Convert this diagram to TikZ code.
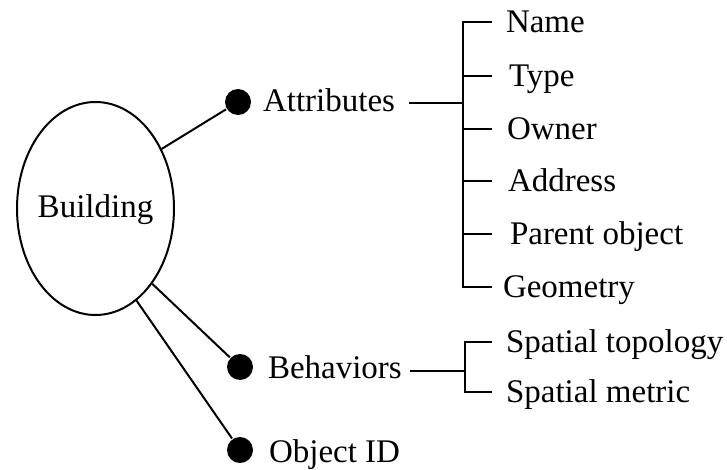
\documentclass[tikz,border=0pt]{standalone}
\usepackage{fontspec}
\setmainfont{Liberation Serif}
\usetikzlibrary{shapes.geometric}
\begin{document}
\begin{tikzpicture}[x=1pt,y=-1pt,line width=2pt,
  txt/.style={inner sep=0pt,font=\fontsize{33}{40}\selectfont},
  item/.style={txt,anchor=base west},
  dot/.style={circle,fill=black,inner sep=0pt,minimum size=26pt}]
\useasboundingbox (0,0) rectangle (727,470);

% central object
\node[ellipse,draw,minimum width=157pt,minimum height=213pt,inner sep=0pt] (bld) at (95.5,208.5) {};
\node[txt,anchor=base] (bldL) at (95.5,218) {Building};

% the three facets
\node[dot] (da) at (238,102) {};
\node[dot] (db) at (240,367) {};
\node[dot] (dc) at (240,450) {};
\node[item] (la) at (262,112) {Attributes};
\node[item] (lb) at (267,378) {Behaviors};
\node[item] (lc) at (268,462) {Object ID};
\draw (bld.42) -- (da);
\draw (bld.-53) -- (db);
\draw (bld.-66) -- (dc);

% attribute list
\coordinate (as) at (409,103);
\coordinate (aj) at (463,103);
\draw (as) -- (aj);
\draw (492,22) -- (463,22) -- (463,287) -- (492,287);
\foreach \y in {76,129,181,234} \draw (463,\y) -- (492,\y);
\node[item] (a1) at (505,32.5) {Name};
\node[item] (a2) at (508,86.5) {Type};
\node[item] (a3) at (506,139.5) {Owner};
\node[item] (a4) at (507,191.5) {Address};
\node[item] (a5) at (509,244.5) {Parent object};
\node[item] (a6) at (502,297.5) {Geometry};

% behavior list
\coordinate (bs) at (410,371);
\coordinate (bj) at (465,371);
\draw (bs) -- (bj);
\draw (492,342) -- (465,342) -- (465,392) -- (492,392);
\node[item] (b1) at (505,352.5) {Spatial topology};
\node[item] (b2) at (505,402.5) {Spatial metric};
\end{tikzpicture}
\end{document}
